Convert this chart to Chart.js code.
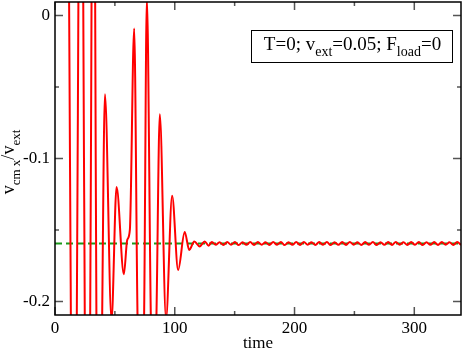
<!DOCTYPE html>
<html><head><meta charset="utf-8">
<script src="https://cdn.jsdelivr.net/npm/chart.js@4.4.1/dist/chart.umd.min.js"></script>
<style>html,body{margin:0;padding:0;background:#fff}#wrap{width:463px;height:350px}</style>
</head><body><div id="wrap"><canvas id="c" width="463" height="350"></canvas></div>
<script>
// transient part: extremes and crossing points
const transientTime = [0, 9.3, 12.5, 15.7, 18.9, 21.5, 24.2, 27.1, 30.0, 32.0,
  34.0, 36.7, 39.4, 41.7, 47.2, 51.4, 57.5, 60.3, 62.5, 66.1,
  68.9, 71.7, 74.4, 76.7, 80.0, 82.3, 84.7, 87.5, 92.7, 97.8,
  102.8, 108.3, 112.1, 116.3, 120.8, 125.0, 128.3];
const transientV = [0.3, 0.3, -0.1, -0.5, -0.1, 0.3, -0.1, -0.5, -0.1, 0.3,
  -0.1, -0.5, -0.21, -0.055, -0.213, -0.120, -0.181, -0.157, -0.150, -0.009,
  -0.21, -0.3, -0.21, 0.012, -0.21, -0.3, -0.21, -0.069, -0.212, -0.126,
  -0.178, -0.1515, -0.164, -0.158, -0.1615, -0.158, -0.161];
// steady part: small ripple
const steadyTime = [131.0,134.2,137.4,140.6,143.8,147.0,150.2,153.4,156.6,159.8,
  163.0,166.2,169.4,172.6,175.8,179.0,182.2,185.4,188.6,191.8,
  195.0,198.2,201.4,204.6,207.8,211.0,214.2,217.4,220.6,223.8,
  227.0,230.2,233.4,236.6,239.8,243.0,246.2,249.4,252.6,255.8,
  259.0,262.2,265.4,268.6,271.8,275.0,278.2,281.4,284.6,287.8,
  291.0,294.2,297.4,300.6,303.8,307.0,310.2,313.4,316.6,319.8,
  323.0,326.2,329.4,332.6,335.8,339.0];
const steadyV = [-0.1584,-0.1604,-0.1586,-0.1605,-0.1585,-0.1603,-0.1584,-0.1606,-0.1586,-0.1604,
  -0.1585,-0.1605,-0.1584,-0.1603,-0.1586,-0.1605,-0.1585,-0.1604,-0.1584,-0.1606,
  -0.1586,-0.1604,-0.1585,-0.1605,-0.1584,-0.1603,-0.1586,-0.1605,-0.1585,-0.1604,
  -0.1584,-0.1606,-0.1586,-0.1604,-0.1585,-0.1605,-0.1584,-0.1603,-0.1586,-0.1605,
  -0.1585,-0.1604,-0.1584,-0.1606,-0.1586,-0.1604,-0.1585,-0.1605,-0.1584,-0.1603,
  -0.1586,-0.1605,-0.1585,-0.1604,-0.1584,-0.1606,-0.1586,-0.1604,-0.1585,-0.1605,
  -0.1584,-0.1603,-0.1586,-0.1605,-0.1585,-0.1604];
const refTime = [0, 339];
const refV = [-0.1595, -0.1595];
const xTicks = [0, 100, 200, 300];
const xMinor = [50, 150, 250];
const yTicks = [0, -0.1, -0.2];
const yTickLabels = ['0', '-0.1', '-0.2'];
const yMinor = [-0.05, -0.15];

const times = transientTime.concat(steadyTime);
const vals = transientV.concat(steadyV);

const SERIF = '"Liberation Serif", "Times New Roman", serif';

function richWidth(ctx, parts, M, S){
  let w = 0;
  parts.forEach(p => { ctx.font = p[1] ? S : M; w += ctx.measureText(p[0]).width; });
  return w;
}
function drawRich(ctx, parts, x, y, M, S, off){
  parts.forEach(p => {
    ctx.font = p[1] ? S : M;
    ctx.fillText(p[0], x, y + (p[1] ? off : 0));
    x += ctx.measureText(p[0]).width;
  });
}

const frame = {
  id: 'frame',
  afterDatasetsDraw(chart){
    const {ctx, chartArea: a, scales: {x, y}} = chart;
    ctx.save();
    ctx.strokeStyle = '#555'; ctx.lineWidth = 1.5;
    ctx.beginPath();
    const xt = (v, len) => { const p = x.getPixelForValue(v); ctx.moveTo(p, a.bottom); ctx.lineTo(p, a.bottom - len); ctx.moveTo(p, a.top); ctx.lineTo(p, a.top + len); };
    const yt = (v, len) => { const p = y.getPixelForValue(v); ctx.moveTo(a.left, p); ctx.lineTo(a.left + len, p); ctx.moveTo(a.right, p); ctx.lineTo(a.right - len, p); };
    xTicks.forEach(v => xt(v, 8)); xMinor.forEach(v => xt(v, 4));
    yTicks.forEach(v => yt(v, 8)); yMinor.forEach(v => yt(v, 4));
    ctx.stroke();
    ctx.strokeStyle = '#000'; ctx.lineWidth = 1.5;
    ctx.strokeRect(a.left, a.top, a.right - a.left, a.bottom - a.top);

    // legend box
    ctx.fillStyle = '#000';
    ctx.textBaseline = 'alphabetic';
    const LM = '19px ' + SERIF, LS = '14px ' + SERIF;
    const leg = [['T=0; v', 0], ['ext', 1], ['=0.05; F', 0], ['load', 1], ['=0', 0]];
    const bx = 251, by = 30, bw = 201, bh = 32;
    ctx.lineWidth = 1;
    ctx.strokeRect(bx + 0.5, by + 0.5, bw, bh);
    const lw = richWidth(ctx, leg, LM, LS);
    drawRich(ctx, leg, bx + (bw - lw) / 2 + 1, by + 20, LM, LS, 6);

    // y axis title
    const YM = '18px ' + SERIF, YS = '13px ' + SERIF;
    const yt2 = [['v', 0], ['cm x', 1], ['/v', 0], ['ext', 1]];
    const tw = richWidth(ctx, yt2, YM, YS);
    ctx.translate(14, 162);
    ctx.rotate(-Math.PI / 2);
    drawRich(ctx, yt2, -tw / 2, 0, YM, YS, 6);
    ctx.restore();
  }
};

new Chart(document.getElementById('c'), {
  type: 'line',
  data: {
    datasets: [
      { data: times.map((t, i) => ({x: t, y: vals[i]})), borderColor: '#ff0000', borderWidth: 2,
        pointRadius: 0, cubicInterpolationMode: 'monotone', order: 0 },
      { data: refTime.map((t, i) => ({x: t, y: refV[i]})), borderColor: '#1a9a1a', borderWidth: 2,
        borderDash: [7, 4], pointRadius: 0, order: 1 }
    ]
  },
  options: {
    responsive: false, animation: false, devicePixelRatio: 1,
    layout: {padding: {left: 0, top: 2, right: 2, bottom: 0}},
    plugins: {legend: {display: false}, tooltip: {enabled: false}},
    scales: {
      x: {
        type: 'linear', min: 0, max: 339,
        afterFit(s){ s.height = 35; s.paddingLeft = 0; s.paddingRight = 0; },
        afterBuildTicks(s){ s.ticks = xTicks.map(v => ({value: v})); },
        grid: {display: false, drawTicks: false}, border: {display: false},
        ticks: {font: {family: SERIF, size: 17}, color: '#000', padding: 3, maxRotation: 0, autoSkip: false},
        title: {display: true, text: 'time', color: '#000', font: {family: SERIF, size: 17, lineHeight: 1}, padding: {top: 0, bottom: -2}}
      },
      y: {
        type: 'linear', min: -0.2095, max: 0.0095,
        afterFit(s){ s.width = 55; s.paddingTop = 0; s.paddingBottom = 0; },
        afterBuildTicks(s){ s.ticks = yTicks.map(v => ({value: v})); },
        grid: {display: false, drawTicks: false}, border: {display: false},
        ticks: {font: {family: SERIF, size: 17}, color: '#000', padding: 5, autoSkip: false,
          callback: (v, i) => yTickLabels[i]}
      }
    }
  },
  plugins: [frame]
});
</script>
</body></html>
